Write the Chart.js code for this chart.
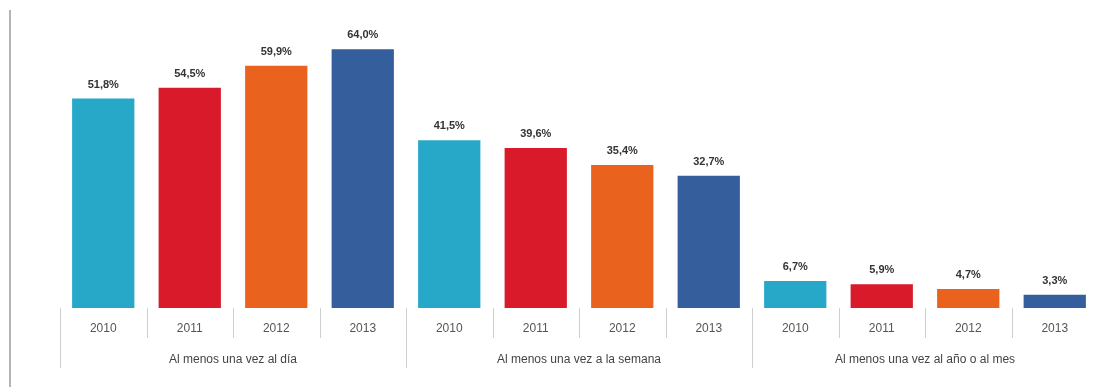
<!DOCTYPE html>
<html>
<head>
<meta charset="utf-8">
<script src="https://cdn.jsdelivr.net/npm/chart.js@4/dist/chart.umd.min.js"></script>
<style>
  html, body { margin: 0; padding: 0; background: #fff; overflow: hidden; }
  #wrap { position: relative; width: 1094px; height: 387px; overflow: hidden; }
  #frame-line { position: absolute; left: 9px; top: 10px; width: 2px; height: 377px; background: #b4b4b4; }
  #chart { position: absolute; left: 0; top: 0; }
</style>
</head>
<body>
<div id="wrap">
  <div id="frame-line"></div>
  <canvas id="chart" width="1110" height="387"></canvas>
</div>
<script>
// ── Data ──────────────────────────────────────────────────────
const YEARS  = ['2010', '2011', '2012', '2013'];
const GROUPS = ['Al menos una vez al día', 'Al menos una vez a la semana', 'Al menos una vez al año o al mes'];
const VALUES = [51.8, 54.5, 59.9, 64.0, 41.5, 39.6, 35.4, 32.7, 6.7, 5.9, 4.7, 3.3];

// one colour per year, repeated in each group
const YEAR_COLORS = ['#27a8c9', '#d91a2a', '#e9631f', '#345f9c'];

const labels = GROUPS.flatMap(() => YEARS);
const colors = VALUES.map((_, i) => YEAR_COLORS[i % YEAR_COLORS.length]);

const FONT = "'Liberation Sans', Arial, sans-serif";

function fmtPct(v) {
  return v.toFixed(1).replace('.', ',') + '%';
}

// ── Plugin: value labels, separators, group names ─────────────
const decorations = {
  id: 'decorations',
  afterDatasetsDraw(chart) {
    const ctx = chart.ctx;
    const meta = chart.getDatasetMeta(0);
    ctx.save();
    ctx.font = 'bold 11px ' + FONT;
    ctx.fillStyle = '#333';
    ctx.textAlign = 'center';
    ctx.textBaseline = 'middle';
    meta.data.forEach((bar, i) => {
      ctx.fillText(fmtPct(VALUES[i]), bar.x, bar.y - 14);
    });
    ctx.restore();
  },
  afterDraw(chart) {
    const ctx = chart.ctx;
    const x = chart.scales.x;
    const bottom = chart.chartArea.bottom;
    const step = x.width / labels.length;
    ctx.save();
    ctx.strokeStyle = '#cfcfcf';
    ctx.lineWidth = 1;
    // separators between years and between groups
    for (let i = 0; i <= labels.length; i++) {
      const px = Math.round(x.left + i * step) + 0.5;
      const len = i % YEARS.length === 0 ? 60 : 30;
      ctx.beginPath();
      ctx.moveTo(px, bottom);
      ctx.lineTo(px, bottom + len);
      ctx.stroke();
    }
    // group names
    ctx.font = '12px ' + FONT;
    ctx.fillStyle = '#444';
    ctx.textAlign = 'center';
    ctx.textBaseline = 'middle';
    GROUPS.forEach((g, gi) => {
      const cx = x.left + (gi * YEARS.length + YEARS.length / 2) * step;
      ctx.fillText(g, cx, bottom + 52);
    });
    ctx.restore();
  }
};

// ── Chart ─────────────────────────────────────────────────────
new Chart(document.getElementById('chart'), {
  type: 'bar',
  data: {
    labels,
    datasets: [{
      data: VALUES,
      backgroundColor: colors,
      borderWidth: 0,
      barPercentage: 0.72,
      categoryPercentage: 1
    }]
  },
  options: {
    responsive: false,
    animation: false,
    layout: { padding: { left: 60, right: 12, top: 25, bottom: 0 } },
    plugins: {
      legend: { display: false },
      tooltip: { enabled: false }
    },
    scales: {
      y: { display: false, min: 0, max: 70 },
      x: {
        grid: { display: false, drawTicks: false },
        border: { display: false },
        ticks: {
          padding: 13,
          color: '#555',
          font: { family: FONT, size: 12 },
          maxRotation: 0,
          autoSkip: false
        },
        afterFit(scale) { scale.height = 79; }
      }
    }
  },
  plugins: [decorations]
});
</script>
</body>
</html>
